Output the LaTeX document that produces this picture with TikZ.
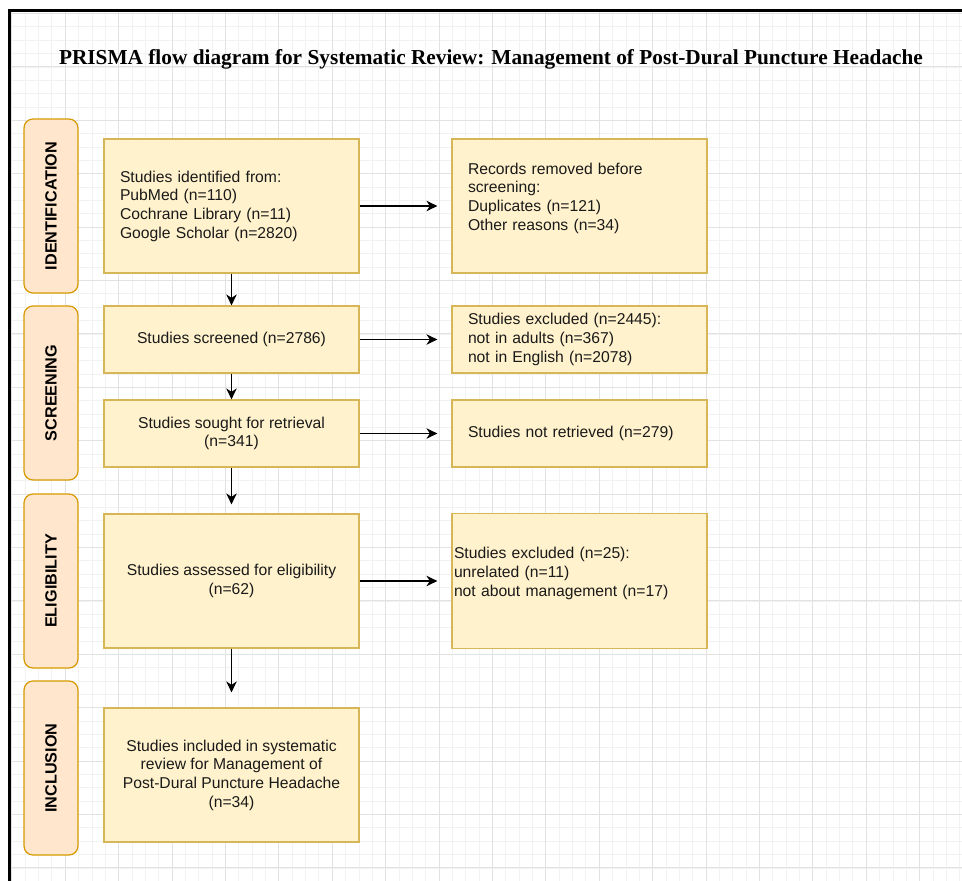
\documentclass[tikz,border=0pt]{standalone}
\usepackage{fontspec}
\setmainfont{Liberation Sans}
\newfontfamily\titlefont{Liberation Serif}
\usetikzlibrary{arrows.meta}
\definecolor{laneFill}{HTML}{FFE6CC}
\definecolor{laneDraw}{HTML}{D79B00}
\definecolor{boxFill}{HTML}{FFF2CC}
\definecolor{boxDraw}{HTML}{D6B656}
\definecolor{gridMinor}{HTML}{F2F2F2}
\definecolor{gridMajor}{HTML}{E2E2E2}
\definecolor{txt}{HTML}{1A1A1A}
\tikzset{
  lane/.style={draw=laneDraw, fill=laneFill, line width=1.2pt, rounded corners=9pt,
    rotate=90, minimum width=174pt, minimum height=54pt, inner sep=0pt,
    font=\fontsize{16.2}{19}\selectfont\bfseries, text=black},
  stagebox/.style={draw=boxDraw, fill=boxFill, line width=1.2pt, minimum width=255pt,
    inner ysep=0pt, font=\fontsize{15.7}{18.7}\selectfont, text=txt},
  leftbox/.style={stagebox, align=left, inner xsep=16pt, text width=223pt},
  centerbox/.style={stagebox, align=center},
  arr/.style={-{Stealth[length=11pt,width=10.5pt,inset=3.5pt]}, line width=1.4pt, black},
}
\begin{document}
\begin{tikzpicture}[x=1pt,y=-1pt]
\useasboundingbox (0,0) rectangle (962,881);
\fill[white] (0,0) rectangle (962,881);
% grid
\begin{scope}
\clip (9,10) rectangle (962,881);
\foreach \i in {-1,...,72} {
  \pgfmathsetmacro\xx{11.8+\i*13.35}
  \draw[gridMinor, line width=0.8pt] (\xx,0) -- (\xx,881);
}
\foreach \i in {-1,...,66} {
  \pgfmathsetmacro\yy{13.5+\i*13.35}
  \draw[gridMinor, line width=0.8pt] (0,\yy) -- (962,\yy);
}
\foreach \i in {0,...,18} {
  \pgfmathsetmacro\xx{11.8+\i*53.4}
  \draw[gridMajor, line width=0.9pt] (\xx,0) -- (\xx,881);
}
\foreach \i in {0,...,17} {
  \pgfmathsetmacro\yy{13.5+\i*53.4}
  \draw[gridMajor, line width=0.9pt] (0,\yy) -- (962,\yy);
}
\end{scope}
% frame
\draw[black, line width=3pt] (9,881) -- (9,10) -- (962,10);
% title
\node[font=\titlefont\fontsize{21.3}{25}\selectfont\bfseries, text=black] (title) at (491,59)
  {PRISMA flow diagram for Systematic Review: Management of Post-Dural Puncture Headache};
% lanes
\node[lane] (l1) at (51,206) {IDENTIFICATION};
\node[lane] (l2) at (51,393) {SCREENING};
\node[lane] (l3) at (51,581) {ELIGIBILITY};
\node[lane] (l4) at (51,768) {INCLUSION};
% boxes
\node[leftbox, minimum height=134pt] (ident) at (231.5,206)
  {Studies identified from:\\PubMed (n=110)\\Cochrane Library (n=11)\\Google Scholar (n=2820)};
\node[leftbox, minimum height=134pt] (removed) at (579.5,206)
  {Records removed before\\screening:\\Duplicates (n=121)\\Other reasons (n=34)\\\mbox{}};
\node[centerbox, minimum height=67pt] (screened) at (231.5,339.5)
  {Studies screened (n=2786)};
\node[leftbox, minimum height=67pt] (excl1) at (579.5,339.5)
  {Studies excluded (n=2445):\\not in adults (n=367)\\not in English (n=2078)};
\node[centerbox, minimum height=67pt] (sought) at (231.5,433.5)
  {Studies sought for retrieval\\(n=341)};
\node[leftbox, minimum height=67pt] (notret) at (579.5,433.5)
  {Studies not retrieved (n=279)};
\node[centerbox, minimum height=134pt] (assessed) at (231.5,581)
  {Studies assessed for eligibility\\(n=62)};
\node[leftbox, inner xsep=2pt, text width=251pt, minimum height=135pt] (excl2) at (579.5,581)
  {Studies excluded (n=25):\\unrelated (n=11)\\not about management (n=17)\\\mbox{}};
\node[centerbox, minimum height=134pt] (included) at (231.5,775)
  {Studies included in systematic\\review for Management of\\Post-Dural Puncture Headache\\(n=34)};
% vertical arrows
\draw[arr] (ident.south) -- (screened.north);
\draw[arr] (screened.south) -- (sought.north);
\draw[arr, shorten >=9pt] (sought.south) -- (assessed.north);
\draw[arr, shorten >=15pt] (assessed.south) -- (included.north);
% horizontal arrows
\draw[arr, shorten >=14pt] (ident.east) -- (removed.west);
\draw[arr, shorten >=14pt] (screened.east) -- (excl1.west);
\draw[arr, shorten >=14pt] (sought.east) -- (notret.west);
\draw[arr, shorten >=14pt] (assessed.east) -- (excl2.west);
\end{tikzpicture}
\end{document}
